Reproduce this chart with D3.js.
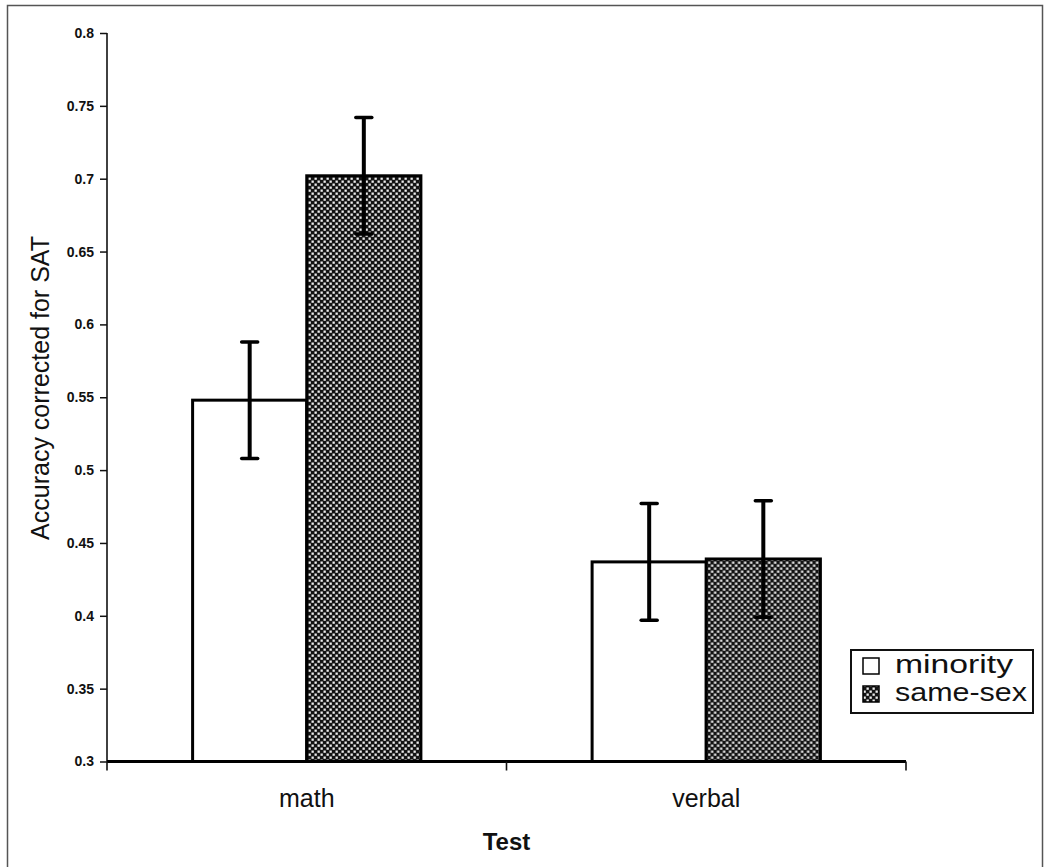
<!DOCTYPE html>
<html>
<head>
<meta charset="utf-8">
<script src="https://cdn.jsdelivr.net/npm/d3@7"></script>
<style>
  html, body { margin: 0; padding: 0; background: #fff; }
  svg { display: block; font-family: "Liberation Sans", Arial, sans-serif; }
</style>
</head>
<body>
<svg id="chart" width="1045" height="867"></svg>
<script>
const categories = ['math', 'verbal'];
const seriesNames = ['minority', 'same-sex'];
const minorityValues = [0.548, 0.437];
const sameSexValues = [0.702, 0.439];
const minorityErrors = [0.040, 0.040];
const sameSexErrors = [0.040, 0.040];
const yTicks = [0.3, 0.35, 0.4, 0.45, 0.5, 0.55, 0.6, 0.65, 0.7, 0.75, 0.8];
const yTickLabels = ['0.3', '0.35', '0.4', '0.45', '0.5', '0.55', '0.6', '0.65', '0.7', '0.75', '0.8'];

(function () {
  'use strict';

  const svg = d3.select('#chart');
  const left = 107, right = 906, top = 33, bottom = 761.5;

  // outer frame of the figure
  svg.append('rect')
    .attr('x', 7.5).attr('y', 5.5)
    .attr('width', 1035).attr('height', 870)
    .attr('fill', 'none').attr('stroke', '#555').attr('stroke-width', 1.5);

  const defs = svg.append('defs');
  const pat = defs.append('pattern')
    .attr('id', 'dots')
    .attr('patternUnits', 'userSpaceOnUse')
    .attr('width', 6).attr('height', 6);
  pat.append('rect').attr('width', 6).attr('height', 6).attr('fill', '#141414');
  pat.append('rect').attr('x', 0.5).attr('y', 0.5).attr('width', 2.3).attr('height', 2.3).attr('fill', '#eee');
  pat.append('rect').attr('x', 3.5).attr('y', 3.5).attr('width', 2.3).attr('height', 2.3).attr('fill', '#eee');

  const x0 = d3.scaleBand().domain(categories).range([left, right]).padding(0);
  const x1 = d3.scaleBand().domain(seriesNames).range([0, x0.bandwidth()])
    .paddingInner(0).paddingOuter(0.75);
  const y = d3.scaleLinear().domain([0.3, 0.8]).range([bottom, top]);

  const rows = categories.map((c, i) => ({
    category: c,
    items: [
      { series: 'minority', value: minorityValues[i], err: minorityErrors[i] },
      { series: 'same-sex', value: sameSexValues[i], err: sameSexErrors[i] }
    ]
  }));
  const fills = { 'minority': '#fff', 'same-sex': 'url(#dots)' };

  // y axis
  const yAxis = svg.append('g')
    .attr('transform', `translate(${left},0)`)
    .call(d3.axisLeft(y).tickValues(yTicks).tickFormat((d, i) => yTickLabels[i]).tickSize(7).tickPadding(6));
  yAxis.select('.domain').attr('stroke', '#111').attr('stroke-width', 1.6).attr('d', `M0,${top}V${bottom}`);
  yAxis.selectAll('.tick line').attr('stroke', '#111').attr('stroke-width', 1.5);
  yAxis.selectAll('.tick text')
    .attr('fill', '#111')
    .style('font-size', '14px')
    .style('font-weight', 'bold')
    .style('font-family', '"Liberation Sans", Arial, sans-serif');

  // bars
  const groups = svg.append('g').selectAll('g')
    .data(rows)
    .join('g')
    .attr('transform', (d) => `translate(${x0(d.category)},0)`);

  groups.selectAll('rect')
    .data((d) => d.items)
    .join('rect')
    .attr('x', (d) => x1(d.series))
    .attr('y', (d) => y(d.value))
    .attr('width', x1.bandwidth())
    .attr('height', (d) => bottom - y(d.value))
    .attr('fill', (d) => fills[d.series])
    .attr('stroke', '#000')
    .attr('stroke-width', 3);

  // error bars
  const errs = groups.selectAll('g.err')
    .data((d) => d.items)
    .join('g')
    .attr('class', 'err')
    .attr('transform', (d) => `translate(${x1(d.series) + x1.bandwidth() / 2},0)`);
  errs.append('line')
    .attr('y1', (d) => y(d.value + d.err))
    .attr('y2', (d) => y(d.value - d.err))
    .attr('stroke', '#000').attr('stroke-width', 4);
  errs.selectAll('line.cap')
    .data((d) => [d.value + d.err, d.value - d.err])
    .join('line')
    .attr('class', 'cap')
    .attr('x1', -8).attr('x2', 8)
    .attr('y1', (v) => y(v)).attr('y2', (v) => y(v))
    .attr('stroke', '#000').attr('stroke-width', 3.5).attr('stroke-linecap', 'round');

  // x axis
  const xAxis = svg.append('g')
    .attr('transform', `translate(0,${bottom})`)
    .call(d3.axisBottom(x0).tickSize(0).tickPadding(28));
  xAxis.select('.domain').attr('stroke', '#000').attr('stroke-width', 3).attr('d', `M${left},0H${right}`);
  xAxis.selectAll('.tick text')
    .attr('fill', '#111')
    .style('font-size', '25px')
    .style('font-family', '"Liberation Sans", Arial, sans-serif');
  const bounds = [left].concat(categories.map((c) => x0(c) + x0.bandwidth()));
  xAxis.selectAll('line.sep')
    .data(bounds)
    .join('line')
    .attr('class', 'sep')
    .attr('x1', (d) => d).attr('x2', (d) => d)
    .attr('y1', 0).attr('y2', 9)
    .attr('stroke', '#111').attr('stroke-width', 1.6);

  // axis titles
  svg.append('text')
    .attr('x', (left + right) / 2).attr('y', 850)
    .attr('text-anchor', 'middle')
    .style('font-size', '24px').style('font-weight', 'bold')
    .attr('fill', '#111')
    .text('Test');

  svg.append('text')
    .attr('transform', 'translate(49,388) rotate(-90)')
    .attr('text-anchor', 'middle')
    .style('font-size', '25px')
    .attr('fill', '#111')
    .text('Accuracy corrected for SAT');

  // legend
  const legend = svg.append('g').attr('transform', 'translate(851,650)');
  legend.append('rect')
    .attr('width', 182).attr('height', 63)
    .attr('fill', '#fff').attr('stroke', '#111').attr('stroke-width', 2);
  const item = legend.selectAll('g.item')
    .data(seriesNames)
    .join('g')
    .attr('class', 'item')
    .attr('transform', (d, i) => `translate(0,${i * 28})`);
  item.append('rect')
    .attr('x', 12).attr('y', 8)
    .attr('width', 16).attr('height', 16)
    .attr('fill', (d) => fills[d])
    .attr('stroke', '#000').attr('stroke-width', 1.5);
  item.append('text')
    .attr('x', 44).attr('y', 23)
    .attr('textLength', (d) => d === 'minority' ? 118 : 132)
    .attr('lengthAdjust', 'spacingAndGlyphs')
    .style('font-size', '26px')
    .attr('fill', '#111')
    .text((d) => d);
})();
</script>
</body>
</html>
